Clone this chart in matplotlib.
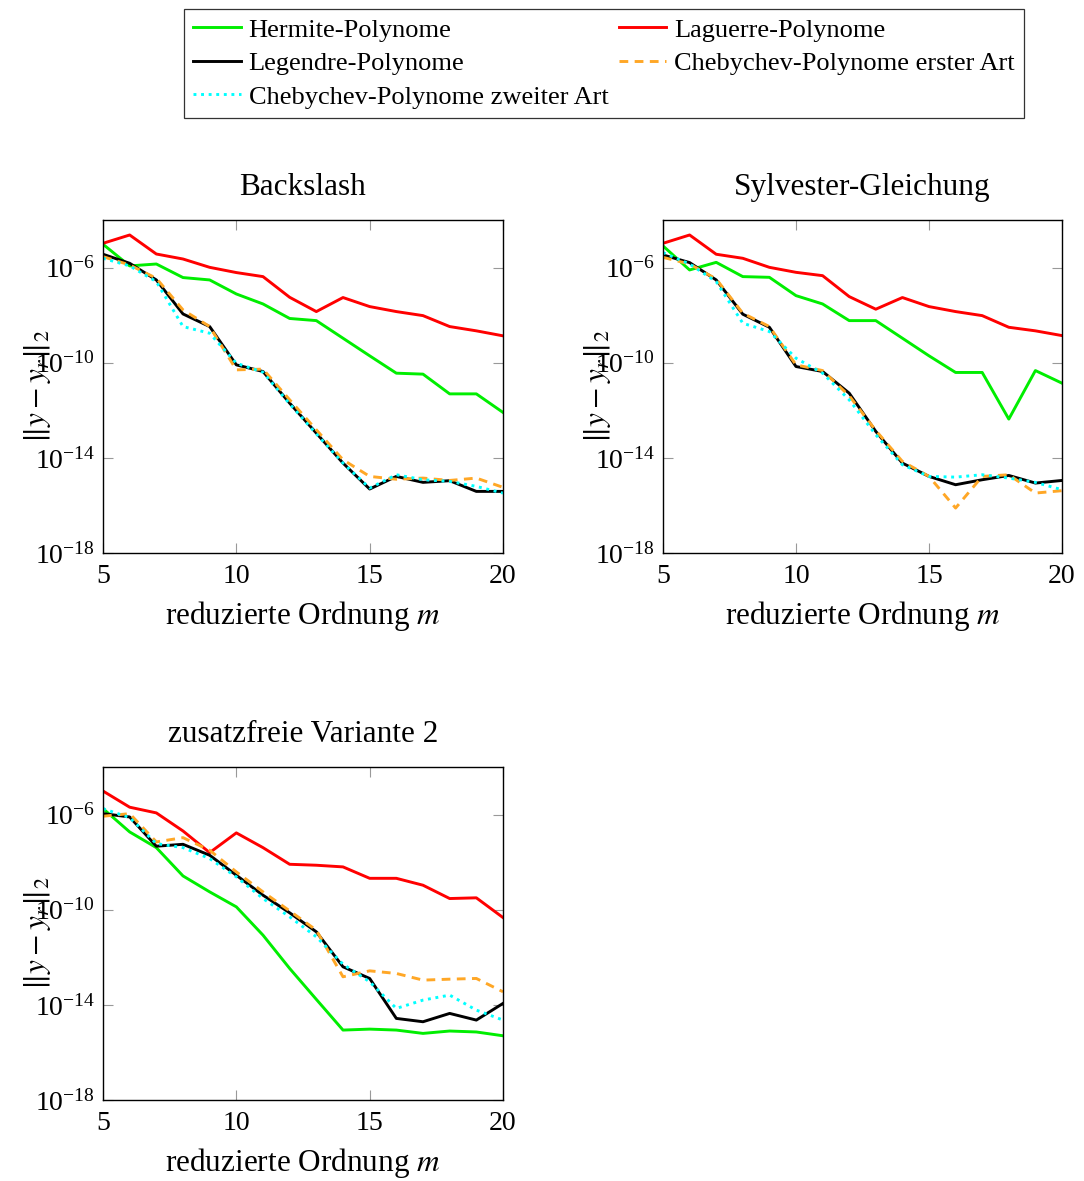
import numpy as np
import matplotlib
matplotlib.use("Agg")
import matplotlib.pyplot as plt

plt.rcParams['font.family'] = ['Liberation Serif', 'DejaVu Serif']
plt.rcParams['mathtext.fontset'] = 'stix'

# reduced order m
m = np.arange(5, 21)

# log10 of the error norm
# Backslash
bs_hermite = [-5.02, -5.93, -5.85, -6.42, -6.52, -7.11, -7.53, -8.14, -8.23, -8.97, -9.71, -10.44, -10.48, -11.31, -11.31, -12.09]
bs_laguerre = [-4.98, -4.63, -5.43, -5.64, -5.99, -6.21, -6.38, -7.25, -7.85, -7.26, -7.64, -7.85, -8.02, -8.48, -8.66, -8.87]
bs_legendre = [-5.44, -5.82, -6.52, -7.95, -8.48, -10.09, -10.37, -11.70, -12.96, -14.22, -15.31, -14.78, -15.03, -14.96, -15.41, -15.41]
bs_cheb1 = [-5.54, -5.89, -6.45, -7.78, -8.48, -10.30, -10.27, -11.56, -12.82, -14.08, -14.78, -14.90, -14.85, -14.95, -14.85, -15.24]
bs_cheb2 = [-5.61, -5.93, -6.59, -8.48, -8.76, -10.02, -10.40, -11.73, -12.99, -14.22, -15.27, -14.71, -14.92, -14.99, -15.20, -15.48]

# Sylvester-Gleichung
sy_hermite = [-5.09, -6.10, -5.78, -6.38, -6.41, -7.18, -7.53, -8.23, -8.23, -8.97, -9.71, -10.41, -10.41, -12.37, -10.33, -10.86]
sy_laguerre = [-4.98, -4.63, -5.44, -5.61, -5.99, -6.20, -6.34, -7.22, -7.75, -7.26, -7.64, -7.85, -8.02, -8.51, -8.66, -8.86]
sy_legendre = [-5.47, -5.79, -6.52, -7.96, -8.51, -10.16, -10.37, -11.28, -12.89, -14.22, -14.78, -15.13, -14.92, -14.74, -15.06, -14.95]
sy_cheb1 = [-5.57, -5.85, -6.48, -7.92, -8.48, -10.09, -10.33, -11.39, -12.85, -14.15, -14.78, -16.11, -14.78, -14.71, -15.48, -15.38]
sy_cheb2 = [-5.37, -5.85, -6.59, -8.34, -8.69, -9.81, -10.44, -11.56, -13.03, -14.29, -14.78, -14.81, -14.71, -14.85, -15.03, -15.34]

# zusatzfreie Variante 2
zv_hermite = [-5.75, -6.73, -7.39, -8.58, -9.25, -9.88, -11.07, -12.47, -13.77, -15.06, -15.02, -15.06, -15.20, -15.10, -15.14, -15.30]
zv_laguerre = [-5.01, -5.69, -5.93, -6.69, -7.60, -6.77, -7.39, -8.09, -8.13, -8.20, -8.68, -8.68, -8.97, -9.53, -9.50, -10.33]
zv_legendre = [-5.96, -6.10, -7.33, -7.25, -7.71, -8.55, -9.39, -10.13, -10.93, -12.40, -12.89, -14.57, -14.71, -14.36, -14.64, -13.94]
zv_cheb1 = [-6.07, -5.96, -7.15, -6.97, -7.50, -8.41, -9.25, -10.05, -10.86, -12.82, -12.57, -12.68, -12.96, -12.92, -12.89, -13.45]
zv_cheb2 = [-5.75, -6.13, -7.22, -7.39, -7.85, -8.62, -9.53, -10.30, -11.14, -12.29, -13.03, -14.15, -13.80, -13.59, -14.22, -14.64]

titles = ["Backslash", "Sylvester-Gleichung", "zusatzfreie Variante 2"]
labels = ["Hermite-Polynome", "Laguerre-Polynome", "Legendre-Polynome",
          "Chebychev-Polynome erster Art", "Chebychev-Polynome zweiter Art"]
panels = [
    [bs_hermite, bs_laguerre, bs_legendre, bs_cheb1, bs_cheb2],
    [sy_hermite, sy_laguerre, sy_legendre, sy_cheb1, sy_cheb2],
    [zv_hermite, zv_laguerre, zv_legendre, zv_cheb1, zv_cheb2],
]
styles = [
    dict(color='#00ee00', linestyle='-'),
    dict(color='#ff0000', linestyle='-'),
    dict(color='black', linestyle='-'),
    dict(color='#ffa726', linestyle=(0, (3, 2.2))),
    dict(color='#00ffff', linestyle=(0, (1, 1.6))),
]

W, H = 1084, 1181
fig = plt.figure(figsize=(W / 100, H / 100), dpi=100)

# axes boxes in pixels: left, top, width, height
boxes = [(103, 220, 400, 333), (663, 220, 399, 333), (103, 767, 400, 333)]

handles = {}
for (x0, y0, w, h), title, data in zip(boxes, titles, panels):
    ax = fig.add_axes([x0 / W, 1 - (y0 + h) / H, w / W, h / H])
    for vals, lab, st in zip(data, labels, styles):
        line, = ax.plot(m, 10.0 ** np.array(vals), lw=2.1, label=lab, **st)
        handles[lab] = line
    ax.set_yscale('log')
    ax.set_xlim(5, 20)
    ax.set_ylim(1e-18, 1e-4)
    ax.set_xticks([5, 10, 15, 20])
    ax.set_yticks([1e-18, 1e-14, 1e-10, 1e-6])
    ax.minorticks_off()
    ax.tick_params(direction='in', length=7, width=0.8, color='#999999',
                   top=True, right=True, labelsize=20, pad=6)
    ax.tick_params(axis='x', pad=8)
    for sp in ax.spines.values():
        sp.set_linewidth(1.0)
    ax.set_title(title, fontsize=22.5, pad=18)
    ax.set_xlabel("reduzierte Ordnung $m$", fontsize=22.5, labelpad=7)
    ax.set_ylabel(r"$\|y - y_r\|_2$", fontsize=22.5)
    ax.yaxis.set_label_coords(-0.125, 0.5)

order = ["Hermite-Polynome", "Legendre-Polynome", "Chebychev-Polynome zweiter Art",
         "Laguerre-Polynome", "Chebychev-Polynome erster Art"]
leg = fig.legend([handles[k] for k in order], order, ncol=2,
                 loc='upper center', bbox_to_anchor=(604 / W, 1 - 9 / H),
                 fontsize=19, frameon=True, fancybox=False, edgecolor='black',
                 handlelength=1.8, handletextpad=0.3, columnspacing=0.4,
                 labelspacing=0.38, borderpad=0.35, borderaxespad=0)
leg.get_frame().set_linewidth(0.9)

fig.savefig("out.png", dpi=100)
